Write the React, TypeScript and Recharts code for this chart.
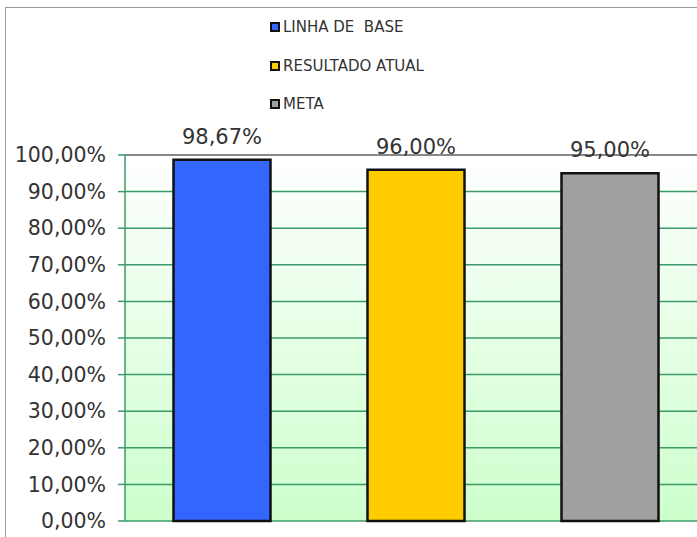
import React from 'react';
import { BarChart, Bar, XAxis, YAxis, CartesianGrid, Cell, LabelList, Legend, ReferenceLine } from 'recharts';

const categories = ['LINHA DE  BASE', 'RESULTADO ATUAL', 'META'];
const values = [98.67, 96.0, 95.0];
const colors = ['#3366ff', '#ffcc00', '#a0a0a0'];
const yTicks = [0, 10, 20, 30, 40, 50, 60, 70, 80, 90, 100];

const data = categories.map((name, i) => ({ name, value: values[i] }));

const pct = (v: number) => v.toFixed(2).replace('.', ',') + '%';

const font = '"DejaVu Sans", Verdana, sans-serif';

const LegendBox = () => (
  <div style={{ fontFamily: font, fontSize: 15, color: '#333' }}>
    {categories.map((c, i) => (
      <div key={c} style={{ display: 'flex', alignItems: 'center', height: 38.5 }}>
        <span
          style={{
            display: 'inline-block',
            width: 6,
            height: 6,
            background: colors[i],
            border: '2px solid #111',
            marginRight: 3,
          }}
        />
        <span style={{ whiteSpace: 'pre' }}>{c}</span>
      </div>
    ))}
  </div>
);

export default function App() {
  return (
    <div style={{ position: 'absolute', left: 0, top: 0, width: 697, height: 537, overflow: 'hidden', background: '#fff' }}>
      <div
        style={{
          position: 'absolute',
          left: 5,
          top: 7,
          width: 720,
          height: 560,
          borderLeft: '1px solid #999',
          borderTop: '1px solid #999',
        }}
      />
      <BarChart
        width={712}
        height={537}
        data={data}
        margin={{ top: 155, right: 5, bottom: 16, left: 0 }}
        barCategoryGap="25%"
        style={{ position: 'absolute', left: 0, top: 0 }}
      >
        <defs>
          <linearGradient id="bg" x1="0" y1="0" x2="0" y2="1">
            <stop offset="0%" stopColor="#ffffff" />
            <stop offset="100%" stopColor="#ccffcc" />
          </linearGradient>
        </defs>
        <CartesianGrid vertical={false} stroke="#3c9a6a" strokeWidth={1.5} fill="url(#bg)" />
        <XAxis dataKey="name" height={0} tick={false} tickLine={false} axisLine={{ stroke: '#888', strokeWidth: 2 }} />
        <YAxis
          width={125}
          domain={[0, 100]}
          ticks={yTicks}
          tickFormatter={pct}
          tickSize={7}
          tickMargin={12}
          interval={0}
          tick={{ fill: '#333', fontSize: 20.5, fontFamily: font }}
          tickLine={{ stroke: '#3c9a6a', strokeWidth: 1.5 }}
          axisLine={{ stroke: '#3c9a6a', strokeWidth: 1.5 }}
        />
        <ReferenceLine y={100} stroke="#888" strokeWidth={2} />
        <Legend layout="vertical" align="center" verticalAlign="middle" content={LegendBox} wrapperStyle={{ top: 8, left: 270, width: 'auto' }} />
        <Bar dataKey="value" stroke="#111" strokeWidth={2.5} isAnimationActive={false}>
          {data.map((d, i) => (
            <Cell key={d.name} fill={colors[i]} />
          ))}
          <LabelList
            dataKey="value"
            position="top"
            offset={16}
            formatter={(v: any) => pct(Number(v))}
            style={{ fill: '#333', fontSize: 21, fontFamily: font }}
          />
        </Bar>
      </BarChart>
    </div>
  );
}
